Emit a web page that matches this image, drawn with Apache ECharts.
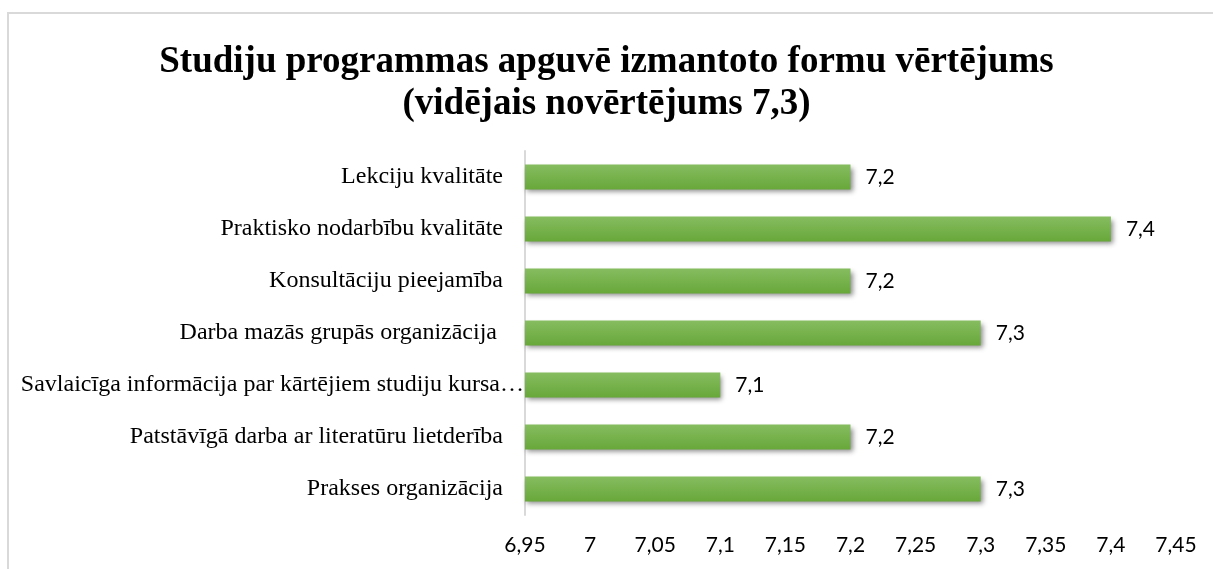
<!DOCTYPE html>
<html>
<head>
<meta charset="utf-8">
<script src="https://cdn.jsdelivr.net/npm/echarts@6/dist/echarts.min.js"></script>
<style>
  html, body { margin: 0; padding: 0; background: #fff; }
  #chart { width: 1213px; height: 569px; }
</style>
</head>
<body>
<div id="chart"></div>
<script>
const categories = [
  'Lekciju kvalitāte',
  'Praktisko nodarbību kvalitāte',
  'Konsultāciju pieejamība',
  'Darba mazās grupās organizācija ',
  'Savlaicīga informācija par kārtējiem studiju kursa…',
  'Patstāvīgā darba ar literatūru lietderība',
  'Prakses organizācija'
]
const ratings = [7.2, 7.4, 7.2, 7.3, 7.1, 7.2, 7.3]
const axisMin = 6.95
const axisMax = 7.45
const axisStep = 0.05

// comma as decimal separator
function lv(v) {
  return parseFloat(Number(v).toFixed(2)).toString().replace('.', ',')
}

const chart = echarts.init(document.getElementById('chart'))
const option = {
  animation: false,
  backgroundColor: '#fff',
  graphic: [
    {
      type: 'rect',
      shape: { x: 8, y: 13, width: 1300, height: 700 },
      style: { fill: 'none', stroke: '#d9d9d9', lineWidth: 2 },
      silent: true
    }
  ],
  title: {
    text: 'Studiju programmas apguvē izmantoto formu vērtējums\n(vidējais novērtējums 7,3)',
    left: 'center',
    top: 36,
    textStyle: {
      fontFamily: 'Liberation Serif',
      fontWeight: 'bold',
      fontSize: 37,
      lineHeight: 42,
      color: '#000'
    }
  },
  grid: {
    left: 525,
    right: 37,
    top: 151,
    bottom: 54
  },
  xAxis: {
    type: 'value',
    min: axisMin,
    max: axisMax,
    interval: axisStep,
    axisLine: { show: false },
    axisTick: { show: false },
    splitLine: { show: false },
    axisLabel: {
      margin: 20,
      fontFamily: 'Lato',
      fontSize: 21,
      color: '#000',
      formatter: lv
    }
  },
  yAxis: {
    type: 'category',
    inverse: true,
    data: categories,
    axisLine: { show: true, lineStyle: { color: '#d9d9d9', width: 2 } },
    axisTick: { show: false },
    axisLabel: {
      margin: 0,
      color: '#000',
      // the truncated label runs right up to the axis, the rest keep a gap
      formatter: function (v) {
        return v.endsWith('…') ? '{l|' + v + '}' : '{n|' + v + '}'
      },
      rich: {
        n: { fontFamily: 'Liberation Serif', fontSize: 24, padding: [0, 22, 0, 0] },
        l: { fontFamily: 'Liberation Serif', fontSize: 24, padding: [0, 1, 0, 0] }
      }
    }
  },
  series: [
    {
      type: 'bar',
      data: ratings,
      barCategoryGap: '52%',
      itemStyle: {
        color: new echarts.graphic.LinearGradient(0, 0, 0, 1, [
          { offset: 0, color: '#86bd60' },
          { offset: 1, color: '#68a73a' }
        ]),
        shadowColor: 'rgba(0,0,0,0.45)',
        shadowBlur: 5,
        shadowOffsetX: 2,
        shadowOffsetY: 3
      },
      label: {
        show: true,
        position: 'right',
        distance: 15,
        fontFamily: 'Lato',
        fontSize: 21,
        color: '#000',
        formatter: function (p) { return lv(p.value) }
      }
    }
  ]
}
chart.setOption(option)
</script>
</body>
</html>
